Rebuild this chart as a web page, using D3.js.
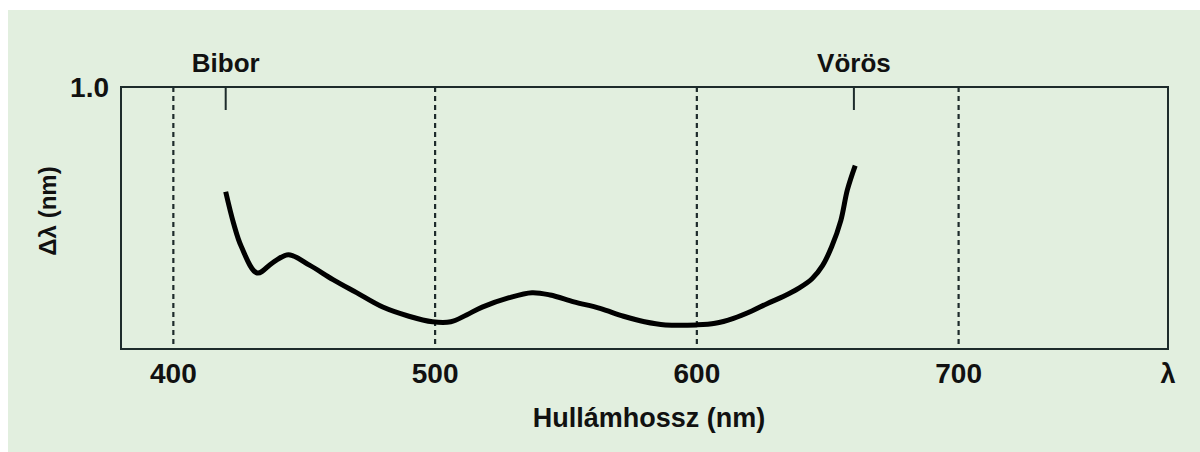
<!DOCTYPE html>
<html>
<head>
<meta charset="utf-8">
<script src="https://cdn.jsdelivr.net/npm/d3@7"></script>
<style>
  html, body { margin: 0; padding: 0; background: #fff; }
  text { font-family: "Liberation Sans", Arial, sans-serif; font-weight: bold; fill: #111; }
</style>
</head>
<body>
<div id="chart"></div>
<script>
// wavelength (nm) and delta-lambda values
var wavelengths = [420, 423, 426, 432, 438, 444, 452, 461, 470, 480, 490, 499, 506, 512, 518, 528, 537, 544, 553, 563, 572, 580, 588, 600, 607, 614, 621, 627, 633, 639, 644, 648, 651.5, 655, 657.5, 660.5];
var deltas      = [0.60, 0.48, 0.39, 0.29, 0.33, 0.36, 0.32, 0.265, 0.215, 0.16, 0.125, 0.104, 0.104, 0.13, 0.16, 0.195, 0.215, 0.206, 0.18, 0.155, 0.125, 0.104, 0.092, 0.092, 0.098, 0.117, 0.145, 0.174, 0.2, 0.232, 0.268, 0.318, 0.39, 0.49, 0.607, 0.70];
var gridTicks = [400, 500, 600, 700];
var markers = [{nm: 420, label: "Bibor"}, {nm: 660, label: "Vörös"}];

var width = 1200, height = 452;
var margin = {top: 87, right: 32, bottom: 103, left: 121};

var svg = d3.select("#chart").append("svg")
    .attr("width", width)
    .attr("height", height);

// light green paper
svg.append("rect")
    .attr("x", 8).attr("y", 10)
    .attr("width", width - 8).attr("height", height - 10)
    .attr("fill", "#e2efdf");

var x = d3.scaleLinear().domain([380, 780]).range([margin.left, width - margin.right]);
var y = d3.scaleLinear().domain([0, 1]).range([height - margin.bottom, margin.top]);

// dashed verticals
svg.append("g")
  .selectAll("line")
  .data(gridTicks)
  .enter().append("line")
    .attr("x1", function(d) { return x(d); })
    .attr("x2", function(d) { return x(d); })
    .attr("y1", y(1))
    .attr("y2", y(0))
    .attr("stroke", "#1d2b2b")
    .attr("stroke-width", 2.2)
    .attr("stroke-dasharray", "5,4");

// frame
svg.append("rect")
    .attr("x", x(380)).attr("y", y(1))
    .attr("width", x(780) - x(380))
    .attr("height", y(0) - y(1))
    .attr("fill", "none")
    .attr("stroke", "#1d2b2b")
    .attr("stroke-width", 2);

// x tick labels
svg.append("g")
  .selectAll("text")
  .data(gridTicks)
  .enter().append("text")
    .attr("x", function(d) { return x(d); })
    .attr("y", 383)
    .attr("text-anchor", "middle")
    .attr("font-size", 28)
    .text(function(d) { return d; });

svg.append("text")
    .attr("x", x(780))
    .attr("y", 383)
    .attr("text-anchor", "middle")
    .attr("font-size", 27)
    .text("λ");

svg.append("text")
    .attr("x", margin.left - 12)
    .attr("y", y(1) + 10)
    .attr("text-anchor", "end")
    .attr("font-size", 28)
    .text("1.0");

// markers at top
var mk = svg.append("g")
  .selectAll("g")
  .data(markers)
  .enter().append("g");

mk.append("line")
    .attr("x1", function(d) { return x(d.nm); })
    .attr("x2", function(d) { return x(d.nm); })
    .attr("y1", y(1))
    .attr("y2", y(1) + 23)
    .attr("stroke", "#1d2b2b")
    .attr("stroke-width", 2);

mk.append("text")
    .attr("x", function(d) { return x(d.nm); })
    .attr("y", 72)
    .attr("text-anchor", "middle")
    .attr("font-size", 26)
    .text(function(d) { return d.label; });

// axis titles
svg.append("text")
    .attr("x", 649)
    .attr("y", 427)
    .attr("text-anchor", "middle")
    .attr("font-size", 27)
    .text("Hullámhossz (nm)");

svg.append("text")
    .attr("transform", "translate(56,211) rotate(-90)")
    .attr("text-anchor", "middle")
    .attr("font-size", 24)
    .text("Δλ (nm)");

// curve
var line = d3.line()
    .x(function(d, i) { return x(wavelengths[i]); })
    .y(function(d) { return y(d); })
    .curve(d3.curveCatmullRom.alpha(0.5));

svg.append("path")
    .datum(deltas)
    .attr("d", line)
    .attr("fill", "none")
    .attr("stroke", "#000")
    .attr("stroke-width", 5)
    .attr("stroke-linejoin", "round");
</script>
</body>
</html>
